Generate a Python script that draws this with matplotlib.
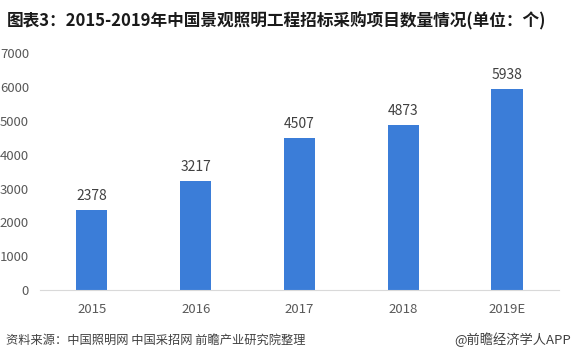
import matplotlib
matplotlib.use("Agg")
import matplotlib.pyplot as plt

plt.rcParams['font.family'] = ['Noto Sans CJK SC', 'DejaVu Sans']

years = ['2015', '2016', '2017', '2018', '2019E']
counts = [2378, 3217, 4507, 4873, 5938]
y_ticks = [0, 1000, 2000, 3000, 4000, 5000, 6000, 7000]

fig = plt.figure(figsize=(5.72, 3.64), dpi=100)
ax = fig.add_axes([0.07, 0.203, 0.907, 0.651])

bars = ax.bar(range(len(years)), counts, width=0.3, color='#3b7dd8')
for i, v in enumerate(counts):
    ax.text(i, v + 200, str(v), ha='center', va='bottom', fontsize=10, color='#404040')

ax.set_xlim(-0.5, len(years) - 0.5)
ax.set_ylim(0, 7000)
ax.set_yticks(y_ticks)
ax.set_xticks(range(len(years)))
ax.set_xticklabels(years)
ax.tick_params(axis='both', length=0, labelsize=9.5, colors='#595959')
ax.tick_params(axis='x', pad=9)
ax.tick_params(axis='y', pad=8)
for s in ['top', 'right', 'left']:
    ax.spines[s].set_visible(False)
ax.spines['bottom'].set_color('#d9d9d9')

fig.text(0.012, 0.942, '图表3：2015-2019年中国景观照明工程招标采购项目数量情况(单位：个)',
         fontsize=12, fontweight='bold', color='#1a1a1a', va='center')
fig.text(0.01, 0.066, '资料来源：中国照明网 中国采招网 前瞻产业研究院整理',
         fontsize=8.8, color='#404040', va='center')
fig.text(0.998, 0.066, '@前瞻经济学人APP', fontsize=9.5, color='#404040',
         va='center', ha='right')

fig.savefig('out.png', dpi=100)
